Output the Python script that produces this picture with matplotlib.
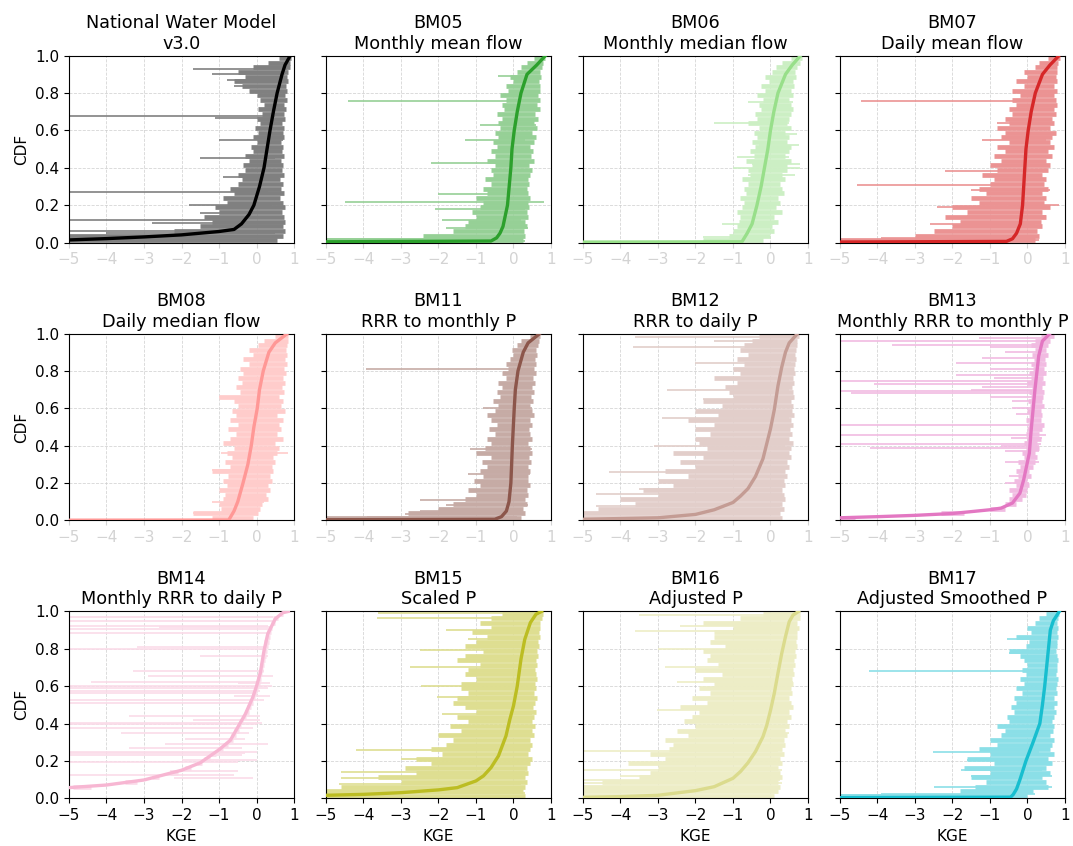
import matplotlib
matplotlib.use("Agg")
import matplotlib.pyplot as plt
import matplotlib.colors as mcolors
import numpy as np

# ---------------- data ----------------
TITLES = ["National Water Model\nv3.0", "BM05\nMonthly mean flow", "BM06\nMonthly median flow",
          "BM07\nDaily mean flow", "BM08\nDaily median flow", "BM11\nRRR to monthly P",
          "BM12\nRRR to daily P", "BM13\nMonthly RRR to monthly P", "BM14\nMonthly RRR to daily P",
          "BM15\nScaled P", "BM16\nAdjusted P", "BM17\nAdjusted Smoothed P"]
COLORS = ["black", "#2ca02c", "#98df8a", "#d62728", "#ff9896", "#8c564b",
          "#c49c94", "#e377c2", "#f7b6d2", "#bcbd22", "#dbdb8d", "#17becf"]

# CDF levels at which the per-basin KGE ranges are drawn
CDF_LEVELS = [0.0125, 0.0375, 0.0625, 0.0875, 0.1125, 0.1375, 0.1625, 0.1875, 0.2125, 0.2375,
              0.2625, 0.2875, 0.3125, 0.3375, 0.3625, 0.3875, 0.4125, 0.4375, 0.4625, 0.4875,
              0.5125, 0.5375, 0.5625, 0.5875, 0.6125, 0.6375, 0.6625, 0.6875, 0.7125, 0.7375,
              0.7625, 0.7875, 0.8125, 0.8375, 0.8625, 0.8875, 0.9125, 0.9375, 0.9625, 0.9875]

# ---- National Water Model
NWM_CX = [-6, -5, -4, -3, -2, -1, -0.6, -0.4, -0.2, -0.07, 0.08, 0.2, 0.28, 0.36, 0.45, 0.55, 0.68, 0.76, 0.9]
NWM_CY = [0.01, 0.014, 0.021, 0.03, 0.041, 0.059, 0.07, 0.1, 0.15, 0.2, 0.3, 0.4, 0.5, 0.6, 0.7, 0.8, 0.9, 0.95, 1.0]
NWM_LO = [-5.0, -5.0, -2.2, -1.5, -1.2, -1.4, -1.0, -1.1, -0.8, -0.9, -0.6, -0.7, -0.5, -0.4, -0.5, -0.3, -0.35, -0.2, -0.3, -0.1,
          -0.15, 0.0, -0.1, 0.05, -0.05, 0.1, 0.0, 0.15, 0.05, 0.2, 0.1, 0.0, -0.2, -0.4, -0.6, -0.3, -0.5, -0.1, 0.3, 0.6]
NWM_HI = [0.55, 0.7, 0.75, 0.7, 0.75, 0.72, 0.68, 0.75, 0.7, 0.62, 0.72, 0.66, 0.7, 0.62, 0.72, 0.68, 0.7, 0.64, 0.72, 0.68,
          0.7, 0.66, 0.74, 0.7, 0.72, 0.68, 0.75, 0.72, 0.78, 0.74, 0.8, 0.76, 0.82, 0.78, 0.84, 0.8, 0.85, 0.88, 0.9, 0.92]
NWM_OUT = [(0.677, -5, 0.5), (0.27, -5, 0.3), (0.12, -5, -0.3), (0.105, -2.8, 0.4), (0.06, -5, 0.2), (0.05, -4.0, 0.5),
           (0.93, -1.7, 0.8), (0.9, -1.2, 0.75), (0.87, -0.8, 0.8), (0.84, -0.6, 0.7), (0.55, -1.0, 0.7), (0.45, -1.5, 0.5),
           (0.35, -0.9, 0.6), (0.2, -1.8, 0.4), (0.16, -1.5, 0.6), (0.665, -1.1, 0.4)]

# ---- BM05
BM05_CX = [-6, -0.6, -0.45, -0.36, -0.28, -0.16, -0.07, -0.04, 0.02, 0.1, 0.2, 0.36, 0.62, 0.85]
BM05_CY = [0.003, 0.008, 0.025, 0.05, 0.086, 0.2, 0.4, 0.5, 0.6, 0.7, 0.8, 0.9, 0.95, 1.0]
BM05_LO = [-5.0, -2.4, -1.6, -1.3, -1.2, -1.0, -1.1, -0.9, -0.8, -1.0, -0.7, -0.8, -0.6, -0.75, -0.55, -0.6, -0.5, -0.7, -0.5, -0.6,
           -0.45, -0.55, -0.4, -0.5, -0.35, -0.4, -0.3, -0.45, -0.25, -0.3, -0.2, -0.35, -0.15, -0.2, 0.0, -0.1, 0.1, 0.2, 0.35, 0.55]
BM05_HI = [0.25, 0.3, 0.28, 0.35, 0.3, 0.4, 0.35, 0.42, 0.38, 0.45, 0.4, 0.35, 0.42, 0.38, 0.45, 0.5, 0.42, 0.55, 0.48, 0.52,
           0.45, 0.55, 0.6, 0.5, 0.62, 0.55, 0.65, 0.58, 0.7, 0.62, 0.72, 0.65, 0.7, 0.72, 0.68, 0.74, 0.72, 0.76, 0.8, 0.85]
BM05_OUT = [(0.76, -4.42, 0.3), (0.215, -4.5, 0.82), (0.425, -2.2, 0.2), (0.18, -2.1, 0.3), (0.26, -2.0, 0.2),
            (0.02, -5, 0.2), (0.01, -3.8, 0.3), (0.03, -2.3, 0.1), (0.08, -1.8, 0.4), (0.12, -1.9, 0.2),
            (0.55, -1.3, 0.3), (0.63, -0.9, 0.6), (0.89, -0.4, 0.7)]

# ---- BM06
BM06_CX = [-6, -0.76, -0.62, -0.49, -0.36, -0.25, -0.16, -0.07, 0.0, 0.09, 0.2, 0.4, 0.58, 0.8]
BM06_CY = [0.002, 0.004, 0.05, 0.1, 0.2, 0.3, 0.4, 0.5, 0.6, 0.7, 0.8, 0.9, 0.95, 1.0]
BM06_LO = [-1.8, -1.1, -1.0, -0.9, -0.85, -0.8, -0.9, -0.75, -0.7, -0.8, -0.65, -0.7, -0.6, -0.75, -0.55, -0.6, -0.5, -0.65, -0.45, -0.55,
           -0.4, -0.5, -0.35, -0.45, -0.3, -0.6, -0.35, -0.4, -0.25, -0.3, -0.2, -0.35, -0.15, -0.25, -0.05, -0.15, 0.05, 0.15, 0.3, 0.55]
BM06_HI = [-0.2, 0.0, 0.1, 0.05, 0.2, 0.1, 0.3, 0.15, 0.25, 0.2, 0.35, 0.3, 0.25, 0.4, 0.3, 0.45, 0.45, 0.55, 0.4, 0.5,
           0.55, 0.45, 0.5, 0.4, 0.55, 0.45, 0.5, 0.55, 0.6, 0.55, 0.5, 0.6, 0.55, 0.62, 0.6, 0.68, 0.66, 0.72, 0.78, 0.85]
BM06_OUT = [(0.64, -1.5, 0.5), (0.4, -1.0, 0.8), (0.1, -1.3, 0.1), (0.03, -1.8, 0.0), (0.46, -0.9, 0.5), (0.75, -0.6, 0.6),
            (0.42, -0.5, 0.8), (0.52, -0.3, 0.75), (0.58, -0.4, 0.7), (0.36, -0.6, 0.65)]

# ---- BM07
BM07_CX = [-6, -0.56, -0.4, -0.29, -0.19, -0.13, -0.1, -0.07, -0.04, 0.02, 0.1, 0.21, 0.4, 0.6, 0.84]
BM07_CY = [0.002, 0.006, 0.02, 0.05, 0.1, 0.2, 0.3, 0.4, 0.5, 0.6, 0.7, 0.8, 0.9, 0.95, 1.0]
BM07_LO = [-5.0, -3.0, -2.5, -2.0, -1.8, -2.2, -1.6, -2.0, -1.3, -1.5, -1.1, -1.3, -1.0, -0.9, -1.2, -0.8, -1.0, -0.7, -0.9, -0.6,
           -0.8, -0.5, -0.7, -0.6, -0.8, -0.5, -0.6, -0.4, -0.5, -0.3, -0.4, -0.2, -0.4, -0.1, -0.3, 0.0, -0.1, 0.2, 0.3, 0.55]
BM07_HI = [0.2, 0.3, 0.25, 0.4, 0.35, 0.5, 0.4, 0.6, 0.45, 0.5, 0.4, 0.55, 0.45, 0.5, 0.4, 0.55, 0.6, 0.5, 0.65, 0.55,
           0.7, 0.6, 0.65, 0.75, 0.6, 0.7, 0.65, 0.75, 0.7, 0.8, 0.75, 0.7, 0.78, 0.72, 0.8, 0.75, 0.8, 0.78, 0.82, 0.86]
BM07_OUT = [(0.76, -4.45, 0.5), (0.31, -4.55, 0.3), (0.385, -2.2, 0.4), (0.19, -2.4, 0.3), (0.025, -3.9, 0.2),
            (0.015, -3.0, 0.3), (0.1, -2.6, 0.2), (0.14, -1.6, 0.5), (0.28, -1.5, 0.6), (0.55, -1.2, 0.5), (0.64, -0.8, 0.7),
            (0.2, -0.5, 0.84)]

# ---- BM08
BM08_CX = [-6, -0.74, -0.6, -0.5, -0.36, -0.23, -0.14, -0.07, 0.02, 0.08, 0.18, 0.33, 0.5, 0.82]
BM08_CY = [0.001, 0.002, 0.05, 0.1, 0.2, 0.3, 0.4, 0.5, 0.6, 0.7, 0.8, 0.9, 0.95, 1.0]
BM08_LO = [-1.2, -1.7, -0.95, -1.0, -0.9, -0.85, -1.0, -0.8, -0.9, -0.75, -1.2, -0.7, -0.85, -0.65, -0.8, -0.6, -0.9, -0.7, -0.55, -0.75,
           -0.5, -0.7, -0.55, -0.65, -0.5, -0.6, -1.0, -0.45, -0.55, -0.4, -0.5, -0.35, -0.45, -0.2, -0.35, -0.1, -0.2, 0.05, 0.2, 0.5]
BM08_HI = [-0.1, 0.05, 0.1, 0.15, 0.3, 0.25, 0.35, 0.3, 0.4, 0.35, 0.45, 0.4, 0.5, 0.45, 0.55, 0.6, 0.5, 0.7, 0.55, 0.65,
           0.6, 0.7, 0.55, 0.75, 0.65, 0.7, 0.6, 0.72, 0.68, 0.75, 0.7, 0.78, 0.72, 0.8, 0.75, 0.8, 0.78, 0.82, 0.85, 0.85]
BM08_OUT = [(0.27, -1.2, 0.3), (0.66, -1.0, 0.5), (0.04, -1.7, -0.3), (0.36, -0.95, 0.85), (0.1, -1.2, 0.2)]

# ---- BM11
BM11_CX = [-6, -0.5, -0.32, -0.19, -0.12, -0.07, -0.03, 0.02, 0.05, 0.12, 0.26, 0.39, 0.7]
BM11_CY = [0.003, 0.006, 0.02, 0.05, 0.1, 0.2, 0.4, 0.6, 0.7, 0.8, 0.9, 0.95, 1.0]
BM11_LO = [-5.0, -2.8, -2.0, -1.6, -1.3, -1.0, -1.2, -0.9, -1.05, -0.8, -0.9, -0.7, -0.85, -0.6, -1.0, -0.75, -0.6, -0.7, -0.5, -0.65,
           -0.45, -0.6, -0.7, -0.5, -0.4, -0.55, -0.35, -0.45, -0.3, -0.4, -0.2, -0.3, -0.15, -0.2, -0.1, 0.0, -0.05, 0.1, 0.2, 0.45]
BM11_HI = [0.2, 0.3, 0.25, 0.35, 0.3, 0.4, 0.35, 0.45, 0.4, 0.38, 0.45, 0.4, 0.48, 0.42, 0.5, 0.45, 0.4, 0.5, 0.45, 0.42,
           0.5, 0.45, 0.55, 0.5, 0.45, 0.52, 0.48, 0.55, 0.5, 0.58, 0.52, 0.6, 0.55, 0.6, 0.58, 0.62, 0.6, 0.65, 0.68, 0.72]
BM11_OUT = [(0.81, -3.93, 0.0), (0.11, -2.5, 0.3), (0.05, -2.5, 0.2), (0.02, -3.9, 0.1), (0.6, -0.8, 0.5),
            (0.035, -2.9, 0.3), (0.085, -1.8, 0.4), (0.25, -1.2, 0.45), (0.38, -1.15, 0.5)]

# ---- BM12
BM12_CX = [-6, -5, -3, -2, -1.5, -1, -0.8, -0.6, -0.4, -0.2, -0.1, 0, 0.1, 0.2, 0.3, 0.4, 0.5, 0.7]
BM12_CY = [0.003, 0.006, 0.014, 0.032, 0.057, 0.096, 0.13, 0.17, 0.235, 0.33, 0.41, 0.49, 0.59, 0.72, 0.82, 0.9, 0.95, 0.995]
BM12_LO = [-5.0, -5.0, -4.6, -3.6, -4.0, -3.0, -3.4, -2.6, -3.0, -2.2, -2.8, -2.0, -2.4, -1.8, -2.6, -1.7, -1.9, -2.0, -1.6, -2.0,
           -1.5, -2.2, -1.4, -2.0, -1.3, -1.8, -1.0, -1.1, -1.2, -0.9, -1.5, -0.8, -1.0, -0.7, -0.9, -0.6, -0.8, -0.7, -0.5, -0.3]
BM12_HI = [0.3, 0.25, 0.35, 0.3, 0.4, 0.35, 0.3, 0.4, 0.35, 0.45, 0.4, 0.5, 0.45, 0.55, 0.5, 0.55, 0.6, 0.5, 0.58, 0.52,
           0.6, 0.55, 0.62, 0.58, 0.6, 0.55, 0.62, 0.6, 0.58, 0.62, 0.6, 0.65, 0.62, 0.65, 0.68, 0.65, 0.68, 0.7, 0.72, 0.75]
BM12_OUT = [(0.98, -3.6, 0.6), (0.93, -3.66, 0.5), (0.7, -2.77, 0.5), (0.4, -3.1, 0.4), (0.26, -4.3, 0.35),
            (0.14, -4.64, 0.3), (0.075, -4.64, 0.25), (0.55, -2.9, 0.5), (0.84, -2.0, 0.55), (0.17, -3.5, 0.3),
            (0.65, -1.8, 0.6), (0.96, -1.5, 0.5)]

# ---- BM13
BM13_CX = [-6, -5, -4, -3, -2, -1, -0.7, -0.4, -0.2, -0.1, 0.05, 0.1, 0.2, 0.3, 0.4, 0.6]
BM13_CY = [0.012, 0.014, 0.02, 0.027, 0.037, 0.057, 0.066, 0.093, 0.146, 0.218, 0.36, 0.486, 0.7, 0.88, 0.96, 1.0]
BM13_LO = [-5.0, -2.3, -1.0, -0.6, -0.5, -0.4, -0.5, -0.3, -0.35, -0.25, -0.3, -0.2, -0.25, -0.1, -0.15, -0.05, -0.1, 0.0, -0.05, 0.0,
           0.02, -0.05, 0.05, 0.0, 0.08, 0.02, 0.1, 0.05, 0.12, 0.0, 0.1, 0.05, 0.15, 0.1, 0.18, 0.12, 0.2, 0.1, 0.2, 0.35]
BM13_HI = [-4.6, -1.7, -0.6, -0.3, -0.15, -0.05, 0.0, 0.05, 0.0, 0.1, 0.05, 0.15, 0.2, 0.25, 0.2, 0.3, 0.25, 0.35, 0.3, 0.4,
           0.45, 0.35, 0.4, 0.35, 0.45, 0.4, 0.42, 0.45, 0.4, 0.48, 0.42, 0.5, 0.45, 0.5, 0.48, 0.55, 0.5, 0.55, 0.6, 0.7]
BM13_OUT = [(0.975, -1.3, 0.6), (0.96, -5, 0.5), (0.94, -3.6, 0.45), (0.93, -1.0, 0.5), (0.9, -0.6, 0.4),
            (0.87, -1.2, 0.45), (0.84, -1.9, 0.4), (0.81, -1.0, 0.35), (0.78, -1.9, 0.45), (0.745, -5, 0.4),
            (0.73, -4.1, 0.45), (0.715, -1.2, 0.3), (0.70, -1.5, 0.4), (0.69, -5, 0.45), (0.68, -4.7, 0.3),
            (0.66, -1.0, 0.35), (0.64, -0.4, 0.4), (0.51, -5, 0.45), (0.455, -5, 0.5), (0.44, -0.45, 0.4),
            (0.41, -5, 0.35), (0.40, -0.7, 0.3), (0.39, -4.2, 0.25), (0.37, -0.6, 0.3), (0.31, -0.6, 0.3),
            (0.6, -0.4, 0.4), (0.57, -0.3, 0.35), (0.24, -0.5, 0.1), (0.2, -0.6, 0.05), (0.76, -0.9, 0.4)]

# ---- BM14
BM14_CX = [-6, -5, -4, -3, -2, -1.5, -1, -0.7, -0.5, -0.3, -0.1, 0, 0.1, 0.2, 0.3, 0.5, 0.7, 0.85]
BM14_CY = [0.045, 0.057, 0.071, 0.098, 0.15, 0.19, 0.26, 0.31, 0.38, 0.45, 0.54, 0.6, 0.67, 0.79, 0.88, 0.96, 0.993, 1.0]
BM14_LO = [-8.0, -8.0, -4.9, -3.5, -2.8, -2.3, -1.9, -1.6, -1.4, -1.22, -1.05, -0.9, -0.75, -0.68, -0.6, -0.53, -0.46, -0.39, -0.32, -0.26,
           -0.2, -0.14, -0.1, -0.06, -0.02, 0.02, 0.05, 0.08, 0.1, 0.13, 0.15, 0.17, 0.19, 0.21, 0.24, 0.27, 0.32, 0.38, 0.45, 0.62]
BM14_HI = [-6.0, -6.0, -4.4, -3.2, -2.6, -2.1, -1.75, -1.45, -1.25, -1.08, -0.9, -0.75, -0.62, -0.55, -0.48, -0.42, -0.35, -0.28, -0.2, -0.15,
           -0.1, -0.04, 0.0, 0.04, 0.08, 0.12, 0.15, 0.18, 0.2, 0.22, 0.25, 0.28, 0.3, 0.32, 0.35, 0.38, 0.42, 0.5, 0.58, 0.7]
BM14_OUT = [(0.97, -5, 0.45), (0.95, -5, 0.5), (0.92, -5, 0.3), (0.915, -2.6, 0.35), (0.905, -5, 0.4),
            (0.885, -5, 0.35), (0.81, -3.2, 0.2), (0.80, -5, 0.2), (0.76, -1.5, 0.3), (0.68, -3.3, 0.2),
            (0.655, -2.9, 0.45), (0.62, -4.4, 0.0), (0.60, -5, 0.4), (0.59, -5, 0.3), (0.575, -5, 0.1),
            (0.55, -0.6, 0.35), (0.525, -5, 0.2), (0.51, -5, -0.1), (0.44, -3.4, 0.1), (0.42, -1.7, 0.1),
            (0.405, -5, 0.15), (0.40, -5, 0.0), (0.375, -5, -0.1), (0.35, -3.6, -0.2), (0.315, -1.9, -0.3),
            (0.29, -2.45, 0.3), (0.27, -3.4, -0.4), (0.248, -5, 0.0), (0.24, -5, -0.3), (0.23, -5, -0.4),
            (0.205, -2.0, 0.0), (0.196, -5, -0.5), (0.148, -2.3, -0.5), (0.125, -5, -0.6), (0.107, -2.2, -0.1),
            (0.615, -0.5, 0.35), (0.565, -5, 0.0)]

# ---- BM15
BM15_CX = [-6, -5, -4, -3, -2, -1.5, -1, -0.8, -0.6, -0.4, -0.2, -0.1, 0, 0.1, 0.2, 0.3, 0.45, 0.6, 0.75]
BM15_CY = [0.012, 0.016, 0.021, 0.03, 0.045, 0.057, 0.093, 0.12, 0.164, 0.227, 0.334, 0.42, 0.495, 0.6, 0.745, 0.85, 0.94, 0.985, 1.0]
BM15_LO = [-5.0, -5.0, -4.6, -3.0, -3.6, -2.6, -2.9, -2.2, -2.6, -1.9, -2.2, -1.8, -1.6, -2.0, -1.4, -1.7, -1.2, -1.5, -1.0, -1.3,
           -1.6, -1.5, -1.2, -1.4, -1.4, -1.0, -1.3, -1.2, -0.9, -1.5, -1.3, -0.8, -1.3, -1.0, -0.7, -1.1, -0.6, -0.9, -0.6, -0.3]
BM15_HI = [0.3, 0.25, 0.3, 0.35, 0.3, 0.4, 0.35, 0.45, 0.5, 0.4, 0.45, 0.5, 0.45, 0.55, 0.5, 0.58, 0.5, 0.55, 0.6, 0.52,
           0.58, 0.62, 0.55, 0.6, 0.58, 0.62, 0.6, 0.58, 0.62, 0.6, 0.65, 0.62, 0.68, 0.65, 0.7, 0.68, 0.7, 0.72, 0.75, 0.78]
BM15_OUT = [(0.26, -4.2, 0.4), (0.14, -4.6, 0.3), (0.075, -4.64, 0.2), (0.6, -2.47, 0.5), (0.7, -2.77, 0.6),
            (0.795, -2.5, 0.6), (0.965, -3.63, 0.65), (0.99, -3.6, 0.7), (0.54, -2.05, 0.55), (0.21, -3.0, 0.35),
            (0.45, -1.9, 0.5), (0.85, -1.2, 0.65), (0.03, -5, 0.3), (0.11, -4.6, 0.3), (0.9, -1.8, 0.7)]

# ---- BM16
BM16_CX = [-6, -5, -4, -3, -2, -1.5, -1, -0.8, -0.6, -0.4, -0.2, -0.1, 0, 0.1, 0.2, 0.3, 0.4, 0.5, 0.6, 0.75]
BM16_CY = [0.003, 0.005, 0.009, 0.016, 0.041, 0.062, 0.107, 0.143, 0.19, 0.25, 0.33, 0.39, 0.47, 0.56, 0.67, 0.775, 0.865, 0.945, 0.98, 1.0]
BM16_LO = [-5.0, -5.0, -5.0, -4.5, -3.5, -3.2, -3.0, -3.8, -2.8, -3.2, -2.7, -2.6, -2.8, -2.2, -2.5, -2.0, -2.3, -2.1, -1.9, -2.4,
           -1.7, -2.1, -1.6, -1.9, -1.5, -1.8, -1.3, -2.0, -1.4, -1.7, -1.6, -1.8, -1.2, -1.6, -1.5, -1.5, -1.0, -1.8, -0.8, -0.2]
BM16_HI = [0.1, 0.2, 0.25, 0.2, 0.3, 0.25, 0.2, 0.3, 0.25, 0.35, 0.3, 0.4, 0.35, 0.45, 0.4, 0.5, 0.45, 0.55, 0.5, 0.6,
           0.55, 0.5, 0.58, 0.55, 0.6, 0.58, 0.62, 0.6, 0.65, 0.62, 0.68, 0.65, 0.7, 0.68, 0.72, 0.7, 0.75, 0.72, 0.78, 0.8]
BM16_OUT = [(0.255, -5, 0.2), (0.15, -5, 0.3), (0.895, -3.6, 0.7), (0.98, -3.5, 0.75), (0.47, -3.03, 0.5),
            (0.12, -4.0, 0.2), (0.19, -3.2, 0.3), (0.62, -2.5, 0.6), (0.7, -2.8, 0.6), (0.8, -3.0, 0.7),
            (0.35, -2.2, 0.5), (0.08, -5, 0.3), (0.1, -5, 0.25), (0.92, -2.4, 0.7)]

# ---- BM17
BM17_CX = [-6, -0.45, -0.38, -0.29, -0.2, -0.04, 0.15, 0.33, 0.4, 0.46, 0.51, 0.56, 0.61, 0.69, 0.85]
BM17_CY = [0.003, 0.006, 0.02, 0.05, 0.1, 0.2, 0.3, 0.4, 0.5, 0.6, 0.7, 0.8, 0.9, 0.95, 1.0]
BM17_LO = [-5.0, -1.8, -1.4, -1.1, -1.5, -1.0, -1.7, -0.9, -1.6, -1.0, -1.3, -0.8, -1.0, -0.7, -0.6, -0.8, -0.5, -0.55, -0.35, -0.45,
           -0.3, -0.35, -0.15, -0.3, -0.1, -0.2, -0.05, -0.15, 0.0, -0.1, -0.2, -0.5, -0.05, 0.05, -0.3, 0.1, 0.0, 0.2, 0.3, 0.5]
BM17_HI = [0.0, 0.15, 0.55, 0.5, 0.4, 0.6, 0.5, 0.65, 0.55, 0.7, 0.6, 0.65, 0.7, 0.6, 0.68, 0.72, 0.65, 0.7, 0.75, 0.7,
           0.78, 0.72, 0.8, 0.75, 0.78, 0.82, 0.75, 0.8, 0.78, 0.82, 0.8, 0.75, 0.8, 0.78, 0.82, 0.8, 0.82, 0.8, 0.82, 0.85]
BM17_OUT = [(0.68, -4.23, 0.3), (0.25, -2.52, 0.3), (0.06, -2.5, 0.65), (0.015, -5, 0.0), (0.025, -3.9, 0.2),
            (0.15, -1.77, 0.4), (0.205, -1.6, 0.3), (0.12, -1.5, 0.65), (0.85, -0.55, 0.6), (0.78, -0.5, 0.7)]

X_TICKS = [-5, -4, -3, -2, -1, 0, 1]
Y_TICKS = [0.0, 0.2, 0.4, 0.6, 0.8, 1.0]

PANELS = [
    (NWM_CX, NWM_CY, NWM_LO, NWM_HI, NWM_OUT),
    (BM05_CX, BM05_CY, BM05_LO, BM05_HI, BM05_OUT),
    (BM06_CX, BM06_CY, BM06_LO, BM06_HI, BM06_OUT),
    (BM07_CX, BM07_CY, BM07_LO, BM07_HI, BM07_OUT),
    (BM08_CX, BM08_CY, BM08_LO, BM08_HI, BM08_OUT),
    (BM11_CX, BM11_CY, BM11_LO, BM11_HI, BM11_OUT),
    (BM12_CX, BM12_CY, BM12_LO, BM12_HI, BM12_OUT),
    (BM13_CX, BM13_CY, BM13_LO, BM13_HI, BM13_OUT),
    (BM14_CX, BM14_CY, BM14_LO, BM14_HI, BM14_OUT),
    (BM15_CX, BM15_CY, BM15_LO, BM15_HI, BM15_OUT),
    (BM16_CX, BM16_CY, BM16_LO, BM16_HI, BM16_OUT),
    (BM17_CX, BM17_CY, BM17_LO, BM17_HI, BM17_OUT),
]

# ---------------- plot ----------------
fig, axes = plt.subplots(3, 4, figsize=(10.73, 8.46), dpi=100, sharey=True)
fig.subplots_adjust(left=0.0643, right=0.9925, top=0.9342, bottom=0.0564, wspace=0.142, hspace=0.487)


def light(c, f=0.5):
    r, g, b = mcolors.to_rgb(c)
    return (r * f + (1 - f), g * f + (1 - f), b * f + (1 - f))


for i, ax in enumerate(axes.flat):
    cx, cy, lo, hi, out = PANELS[i]
    col = COLORS[i]
    lc = light(col)
    ax.grid(True, linestyle="--", color="#cccccc", linewidth=0.6, alpha=0.8)
    ax.set_axisbelow(True)
    ax.hlines(CDF_LEVELS, lo, hi, colors=[lc], linewidth=3.4, capstyle="butt", zorder=2)
    oy = [o[0] for o in out]
    olo = [o[1] for o in out]
    ohi = [o[2] for o in out]
    ax.hlines(oy, olo, ohi, colors=[lc], linewidth=1.2, zorder=2)
    ax.plot(cx, cy, color=col, linewidth=2.4, zorder=3)
    ax.set_xlim(-5, 1)
    ax.set_ylim(0, 1)
    ax.set_xticks(X_TICKS)
    ax.set_yticks(Y_TICKS)
    ax.set_yticklabels([f"{v:.1f}" for v in Y_TICKS])
    ax.tick_params(labelsize=11)
    ax.set_title(TITLES[i], fontsize=12.7, pad=5)
    r, c = divmod(i, 4)
    if r < 2:
        ax.tick_params(axis="x", colors="lightgray")
    else:
        ax.set_xlabel("KGE", fontsize=11)
    if c == 0:
        ax.set_ylabel("CDF", fontsize=11)

fig.savefig("out.png", dpi=100)
